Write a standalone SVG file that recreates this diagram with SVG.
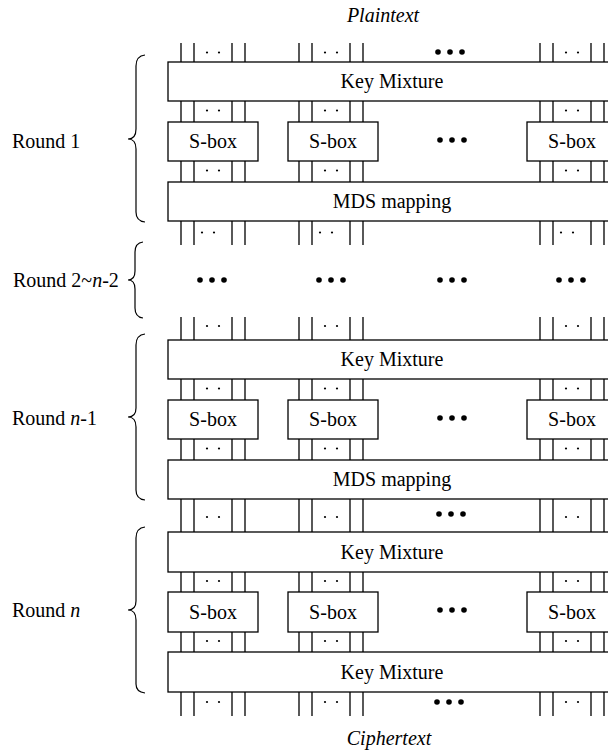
<svg xmlns="http://www.w3.org/2000/svg" width="608" height="754" viewBox="0 0 608 754">
<defs>
<style>
.box{fill:#fff;stroke:#000;stroke-width:1.3}
.w{stroke:#000;stroke-width:1.3;fill:none}
.br{stroke:#000;stroke-width:1.2;fill:none}
.t{font-family:"Liberation Serif","Times New Roman",serif;font-size:20px;fill:#000}
.c{text-anchor:middle}
.i{font-style:italic}
.sd{fill:#000}
.bd{fill:#000}
</style>
<g id="wg">
<line class="w" x1="0" y1="0" x2="0" y2="1"/>
</g>
</defs>
<rect width="608" height="754" fill="#fff"/>

<!-- connectors: wire bundles -->
<g id="connectors">
<!-- segment helper drawn explicitly -->
<g id="seg1">
<path class="w" d="M181,43V62M194,43V62M232,43V62M245,43V62M299,43V62M312,43V62M350,43V62M363,43V62M540,43V62M553,43V62M591,43V62M604,43V62"/>
<g class="sd"><circle cx="207" cy="52.5" r="1.1"/><circle cx="219" cy="52.5" r="1.1"/><circle cx="325" cy="52.5" r="1.1"/><circle cx="337" cy="52.5" r="1.1"/><circle cx="566" cy="52.5" r="1.1"/><circle cx="578" cy="52.5" r="1.1"/></g>
<g class="bd"><circle cx="438" cy="52" r="2.8"/><circle cx="450" cy="52" r="2.8"/><circle cx="462" cy="52" r="2.8"/></g>
</g>
<g id="seg2">
<path class="w" d="M181,101V122M194,101V122M232,101V122M245,101V122M299,101V122M312,101V122M350,101V122M363,101V122M540,101V122M553,101V122M591,101V122M604,101V122"/>
<g class="sd"><circle cx="207" cy="110.5" r="1.1"/><circle cx="219" cy="110.5" r="1.1"/><circle cx="325" cy="110.5" r="1.1"/><circle cx="337" cy="110.5" r="1.1"/><circle cx="566" cy="110.5" r="1.1"/><circle cx="578" cy="110.5" r="1.1"/></g>
</g>
<g id="seg3">
<path class="w" d="M181,161V182M194,161V182M232,161V182M245,161V182M299,161V182M312,161V182M350,161V182M363,161V182M540,161V182M553,161V182M591,161V182M604,161V182"/>
<g class="sd"><circle cx="207" cy="170.5" r="1.1"/><circle cx="219" cy="170.5" r="1.1"/><circle cx="325" cy="170.5" r="1.1"/><circle cx="337" cy="170.5" r="1.1"/><circle cx="566" cy="170.5" r="1.1"/><circle cx="578" cy="170.5" r="1.1"/></g>
</g>
<g id="seg4">
<path class="w" d="M181,221V245M194,221V245M232,221V245M245,221V245M299,221V245M312,221V245M350,221V245M363,221V245M540,221V245M553,221V245M591,221V245M604,221V245"/>
<g class="sd"><circle cx="202" cy="232.5" r="1.1"/><circle cx="214" cy="232.5" r="1.1"/><circle cx="320" cy="232.5" r="1.1"/><circle cx="332" cy="232.5" r="1.1"/><circle cx="561" cy="232.5" r="1.1"/><circle cx="573" cy="232.5" r="1.1"/></g>
</g>
<g id="seg-mid" class="bd">
<circle cx="200" cy="280" r="2.8"/><circle cx="212" cy="280" r="2.8"/><circle cx="224" cy="280" r="2.8"/>
<circle cx="319" cy="280" r="2.8"/><circle cx="331" cy="280" r="2.8"/><circle cx="343" cy="280" r="2.8"/>
<circle cx="440" cy="280" r="2.8"/><circle cx="452" cy="280" r="2.8"/><circle cx="464" cy="280" r="2.8"/>
<circle cx="559" cy="280" r="2.8"/><circle cx="571" cy="280" r="2.8"/><circle cx="583" cy="280" r="2.8"/>
</g>
<g id="seg5">
<path class="w" d="M181,317V340M194,317V340M232,317V340M245,317V340M299,317V340M312,317V340M350,317V340M363,317V340M540,317V340M553,317V340M591,317V340M604,317V340"/>
<g class="sd"><circle cx="207" cy="326" r="1.1"/><circle cx="219" cy="326" r="1.1"/><circle cx="325" cy="326" r="1.1"/><circle cx="337" cy="326" r="1.1"/><circle cx="566" cy="326" r="1.1"/><circle cx="578" cy="326" r="1.1"/></g>
</g>
<g id="seg6">
<path class="w" d="M181,379V400M194,379V400M232,379V400M245,379V400M299,379V400M312,379V400M350,379V400M363,379V400M540,379V400M553,379V400M591,379V400M604,379V400"/>
<g class="sd"><circle cx="207" cy="388.5" r="1.1"/><circle cx="219" cy="388.5" r="1.1"/><circle cx="325" cy="388.5" r="1.1"/><circle cx="337" cy="388.5" r="1.1"/><circle cx="566" cy="388.5" r="1.1"/><circle cx="578" cy="388.5" r="1.1"/></g>
</g>
<g id="seg7">
<path class="w" d="M181,439V460M194,439V460M232,439V460M245,439V460M299,439V460M312,439V460M350,439V460M363,439V460M540,439V460M553,439V460M591,439V460M604,439V460"/>
<g class="sd"><circle cx="207" cy="448.5" r="1.1"/><circle cx="219" cy="448.5" r="1.1"/><circle cx="325" cy="448.5" r="1.1"/><circle cx="337" cy="448.5" r="1.1"/><circle cx="566" cy="448.5" r="1.1"/><circle cx="578" cy="448.5" r="1.1"/></g>
</g>
<g id="seg8">
<path class="w" d="M181,499V532M194,499V532M232,499V532M245,499V532M299,499V532M312,499V532M350,499V532M363,499V532M540,499V532M553,499V532M591,499V532M604,499V532"/>
<g class="sd"><circle cx="207" cy="517" r="1.1"/><circle cx="219" cy="517" r="1.1"/><circle cx="325" cy="517" r="1.1"/><circle cx="337" cy="517" r="1.1"/><circle cx="566" cy="517" r="1.1"/><circle cx="578" cy="517" r="1.1"/></g>
<g class="bd"><circle cx="439" cy="514" r="2.8"/><circle cx="451" cy="514" r="2.8"/><circle cx="463" cy="514" r="2.8"/></g>
</g>
<g id="seg9">
<path class="w" d="M181,572V592M194,572V592M232,572V592M245,572V592M299,572V592M312,572V592M350,572V592M363,572V592M540,572V592M553,572V592M591,572V592M604,572V592"/>
<g class="sd"><circle cx="207" cy="581" r="1.1"/><circle cx="219" cy="581" r="1.1"/><circle cx="325" cy="581" r="1.1"/><circle cx="337" cy="581" r="1.1"/><circle cx="566" cy="581" r="1.1"/><circle cx="578" cy="581" r="1.1"/></g>
</g>
<g id="seg10">
<path class="w" d="M181,632V652M194,632V652M232,632V652M245,632V652M299,632V652M312,632V652M350,632V652M363,632V652M540,632V652M553,632V652M591,632V652M604,632V652"/>
<g class="sd"><circle cx="207" cy="641" r="1.1"/><circle cx="219" cy="641" r="1.1"/><circle cx="325" cy="641" r="1.1"/><circle cx="337" cy="641" r="1.1"/><circle cx="566" cy="641" r="1.1"/><circle cx="578" cy="641" r="1.1"/></g>
</g>
<g id="seg11">
<path class="w" d="M181,692V716M194,692V716M232,692V716M245,692V716M299,692V716M312,692V716M350,692V716M363,692V716M540,692V716M553,692V716M591,692V716M604,692V716"/>
<g class="sd"><circle cx="207" cy="702" r="1.1"/><circle cx="219" cy="702" r="1.1"/><circle cx="325" cy="702" r="1.1"/><circle cx="337" cy="702" r="1.1"/><circle cx="566" cy="702" r="1.1"/><circle cx="578" cy="702" r="1.1"/></g>
<g class="bd"><circle cx="437" cy="702" r="2.8"/><circle cx="449" cy="702" r="2.8"/><circle cx="461" cy="702" r="2.8"/></g>
</g>
</g>

<!-- S-box row big dots -->
<g id="sbox-dots" class="bd">
<circle cx="440" cy="140" r="2.8"/><circle cx="452" cy="140" r="2.8"/><circle cx="464" cy="140" r="2.8"/>
<circle cx="440" cy="418" r="2.8"/><circle cx="452" cy="418" r="2.8"/><circle cx="464" cy="418" r="2.8"/>
<circle cx="440" cy="610" r="2.8"/><circle cx="452" cy="610" r="2.8"/><circle cx="464" cy="610" r="2.8"/>
</g>

<!-- titles -->
<g id="plaintext"><text class="t c i" x="383" y="22">Plaintext</text></g>
<g id="ciphertext"><text class="t c i" x="389" y="745">Ciphertext</text></g>

<!-- Round 1 -->
<g id="r1-km"><rect class="box" x="168" y="62" width="450" height="39"/><text class="t c" x="392" y="88">Key Mixture</text></g>
<g id="r1-s1"><rect class="box" x="168" y="122" width="90" height="39"/><text class="t c" x="213" y="148">S-box</text></g>
<g id="r1-s2"><rect class="box" x="288" y="122" width="90" height="39"/><text class="t c" x="333" y="148">S-box</text></g>
<g id="r1-s4"><rect class="box" x="527" y="122" width="90" height="39"/><text class="t c" x="572" y="148">S-box</text></g>
<g id="r1-mds"><rect class="box" x="168" y="182" width="450" height="39"/><text class="t c" x="392" y="208">MDS mapping</text></g>

<!-- Round n-1 -->
<g id="rn1-km"><rect class="box" x="168" y="340" width="450" height="39"/><text class="t c" x="392" y="366">Key Mixture</text></g>
<g id="rn1-s1"><rect class="box" x="168" y="400" width="90" height="39"/><text class="t c" x="213" y="426">S-box</text></g>
<g id="rn1-s2"><rect class="box" x="288" y="400" width="90" height="39"/><text class="t c" x="333" y="426">S-box</text></g>
<g id="rn1-s4"><rect class="box" x="527" y="400" width="90" height="39"/><text class="t c" x="572" y="426">S-box</text></g>
<g id="rn1-mds"><rect class="box" x="168" y="460" width="450" height="39"/><text class="t c" x="392" y="486">MDS mapping</text></g>

<!-- Round n -->
<g id="rn-km"><rect class="box" x="168" y="532" width="450" height="40"/><text class="t c" x="392" y="559">Key Mixture</text></g>
<g id="rn-s1"><rect class="box" x="168" y="592" width="90" height="40"/><text class="t c" x="213" y="619">S-box</text></g>
<g id="rn-s2"><rect class="box" x="288" y="592" width="90" height="40"/><text class="t c" x="333" y="619">S-box</text></g>
<g id="rn-s4"><rect class="box" x="527" y="592" width="90" height="40"/><text class="t c" x="572" y="619">S-box</text></g>
<g id="rn-km2"><rect class="box" x="168" y="652" width="450" height="40"/><text class="t c" x="392" y="679">Key Mixture</text></g>

<!-- round labels and braces -->
<g id="label-r1">
<text class="t" x="12" y="148">Round 1</text>
<path class="br" d="M145,55Q136,56 136,66L136,129Q136,139 128,139Q136,139 136,149L136,212Q136,221 145,222"/>
</g>
<g id="label-r2">
<text class="t" x="13" y="287">Round 2~<tspan class="i">n</tspan>-2</text>
<path class="br" d="M143,242Q135,243 135,252L135,271Q135,280 128,280Q135,280 135,289L135,308Q135,317 143,318"/>
</g>
<g id="label-rn1">
<text class="t" x="12" y="425">Round <tspan class="i">n</tspan>-1</text>
<path class="br" d="M145,334Q136,335 136,345L136,408Q136,417 128,417Q136,417 136,427L136,490Q136,499 145,500"/>
</g>
<g id="label-rn">
<text class="t" x="12" y="617">Round <tspan class="i">n</tspan></text>
<path class="br" d="M145,527Q136,528 136,538L136,601Q136,610 128,610Q136,610 136,620L136,684Q136,692 145,693"/>
</g>
</svg>
